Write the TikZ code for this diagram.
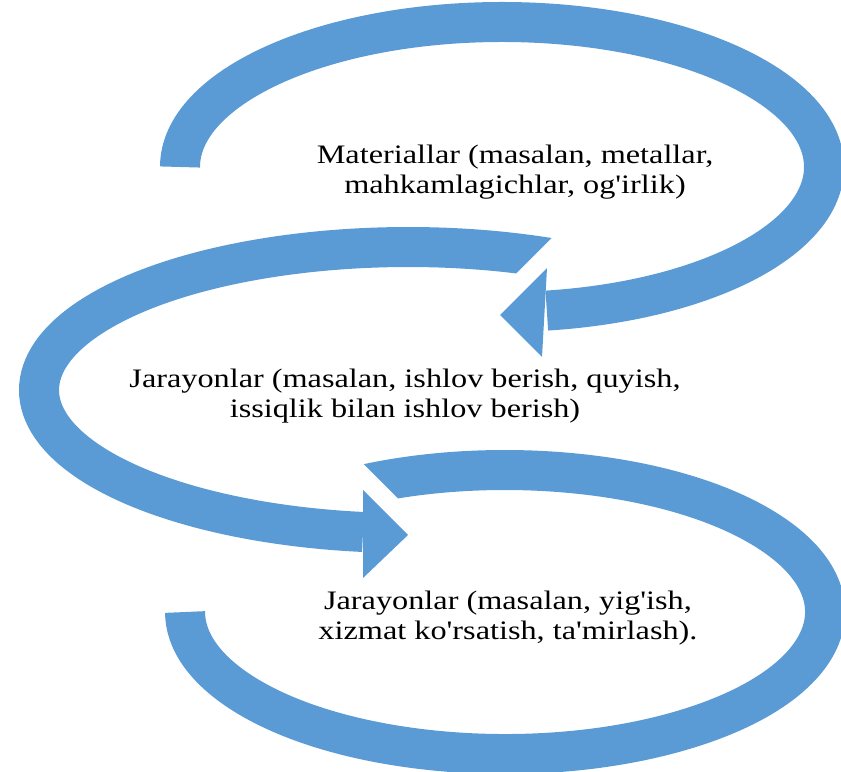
\documentclass[tikz,border=0pt]{standalone}
\usepackage{fontspec}
\setmainfont{Liberation Serif}[Ligatures=TeXOff,FakeStretch=1.21]
\usepackage{tikz}
\usetikzlibrary{positioning}
\definecolor{ringblue}{HTML}{5B9BD5}

\begin{document}
\begin{tikzpicture}[x=0.75pt,y=0.75pt,
  ring/.style={draw=ringblue,line width=30pt},
  head/.style={fill=ringblue},
  txt/.style={align=center,font=\fontsize{20}{23}\selectfont}]
\useasboundingbox (0,0) rectangle (841,771);

% top ring, ends in arrow to the left
\coordinate (topstart) at (180,604);
\draw[ring] (topstart) arc[start angle=180,end angle=-82,x radius=322,y radius=145];
\coordinate (toptip) at (500,456);
\fill[head] (547,503) -- (toptip) -- (542,414) -- cycle;

% middle ring, cut tail
\begin{scope}
\clip (-50,-50) -- (900,-50) -- (900,470) -- (488.5,470) -- (700,681.5) -- (-50,681.5) -- cycle;
\coordinate (midstart) at (592.5,504.8);
\draw[ring] (midstart) arc[start angle=60,end angle=263,x radius=369,y radius=143];
\end{scope}
\coordinate (midtip) at (408,236);
\fill[head] (363,281) -- (midtip) -- (363,193) -- cycle;

% bottom ring, cut tail
\begin{scope}
\clip (-50,-50) -- (900,-50) -- (900,400) -- (270.5,400) -- (440.5,230) -- (-50,230) -- cycle;
\coordinate (botstart) at (321.5,275.3);
\draw[ring] (botstart) arc[start angle=125,end angle=-180,x radius=320,y radius=142];
\end{scope}

\node[txt] (materials) at (515,599) {Materiallar (masalan, metallar,\\ mahkamlagichlar, og'irlik)};
\node[txt] (processes) at (405,375) {Jarayonlar (masalan, ishlov berish, quyish,\\ issiqlik bilan ishlov berish)};
\node[txt] (service) at (508,153) {Jarayonlar (masalan, yig'ish,\\ xizmat ko'rsatish, ta'mirlash).};
\end{tikzpicture}
\end{document}
